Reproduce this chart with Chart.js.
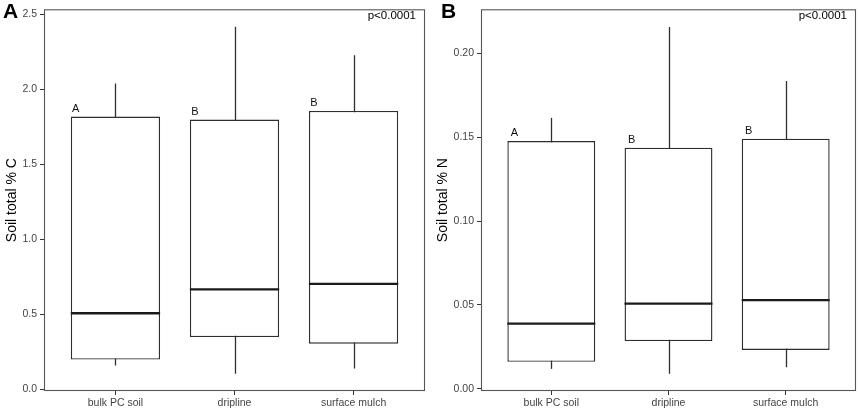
<!DOCTYPE html>
<html>
<head>
<meta charset="utf-8">
<script src="https://cdn.jsdelivr.net/npm/chart.js@4/dist/chart.umd.min.js"></script>
<style>
  html, body { margin: 0; padding: 0; background: #fff; }
  #wrap { position: relative; width: 858px; height: 410px; }
  canvas { position: absolute; top: 0; }
  #chartC { left: 0; }
  #chartN { left: 428px; }
</style>
</head>
<body>
<div id="wrap">
  <canvas id="chartC" width="428" height="410"></canvas>
  <canvas id="chartN" width="430" height="410"></canvas>
</div>
<script>
const categories = ['bulk PC soil', 'dripline', 'surface mulch']
const groupLetters = ['A', 'B', 'B']

// panel A: soil total % C
const carbonMin = [0.159, 0.104, 0.139]
const carbonQ1 = [0.198, 0.348, 0.304]
const carbonMedian = [0.507, 0.666, 0.703]
const carbonQ3 = [1.819, 1.799, 1.856]
const carbonMax = [2.039, 2.418, 2.227]
const carbonTicks = [0, 0.5, 1.0, 1.5, 2.0, 2.5]

// panel B: soil total % N
const nitrogenMin = [0.0118, 0.0089, 0.0128]
const nitrogenQ1 = [0.016, 0.0284, 0.0231]
const nitrogenMedian = [0.0388, 0.0508, 0.0528]
const nitrogenQ3 = [0.1478, 0.1438, 0.1492]
const nitrogenMax = [0.1616, 0.2158, 0.1836]
const nitrogenTicks = [0, 0.05, 0.10, 0.15, 0.20]

const FONT = "'Liberation Sans', Arial, sans-serif"
const INK = '#2e2e2e'

// whiskers, medians, letters and the panel frame
const boxExtras = {
  id: 'boxExtras',
  beforeDatasetsDraw(chart, args, opts) {
    const { ctx, scales: { x, y } } = chart
    ctx.save()
    ctx.strokeStyle = INK
    ctx.lineWidth = 1.3
    opts.lows.forEach((lo, i) => {
      const px = Math.round(x.getPixelForValue(i + 1)) + 0.5
      ctx.beginPath()
      ctx.moveTo(px, y.getPixelForValue(lo))
      ctx.lineTo(px, y.getPixelForValue(opts.highs[i]))
      ctx.stroke()
    })
    ctx.restore()
  },
  afterDatasetsDraw(chart, args, opts) {
    const { ctx, scales: { y } } = chart
    const bars = chart.getDatasetMeta(0).data
    ctx.save()
    ctx.strokeStyle = '#1a1a1a'
    ctx.lineWidth = 2.3
    opts.medians.forEach((m, i) => {
      const bar = bars[i]
      const py = y.getPixelForValue(m)
      ctx.beginPath()
      ctx.moveTo(bar.x - bar.width / 2, py)
      ctx.lineTo(bar.x + bar.width / 2, py)
      ctx.stroke()
    })
    ctx.fillStyle = '#111'
    ctx.font = '11px ' + FONT
    ctx.textAlign = 'center'
    ctx.textBaseline = 'middle'
    groupLetters.forEach((t, i) => {
      const bar = bars[i]
      ctx.fillText(t, bar.x - bar.width / 2 + opts.letterShift, y.getPixelForValue(opts.tops[i]) - 8)
    })
    ctx.restore()
  },
  afterDraw(chart, args, opts) {
    const { ctx, chartArea: a } = chart
    ctx.save()
    ctx.strokeStyle = '#555'
    ctx.lineWidth = 1.1
    ctx.strokeRect(a.left + 0.5, a.top + 0.5, a.right - a.left - 1, a.bottom - a.top - 1)
    ctx.fillStyle = '#000'
    ctx.font = '11.5px ' + FONT
    ctx.textAlign = 'right'
    ctx.textBaseline = 'middle'
    ctx.fillText('p<0.0001', a.right - 9, 16)
    ctx.font = 'bold 21px ' + FONT
    ctx.textAlign = 'left'
    ctx.textBaseline = 'alphabetic'
    ctx.fillText(opts.panel, opts.panelX, 18)
    ctx.restore()
  },
}

function makeChart(id, cfg) {
  const boxes = categories.map((_, i) => ({ x: i + 1, y: [cfg.q1[i], cfg.q3[i]] }))
  return new Chart(document.getElementById(id), {
    type: 'bar',
    data: {
      datasets: [{
        data: boxes,
        backgroundColor: '#ffffff',
        borderColor: INK,
        borderWidth: 1.4,
        borderSkipped: false,
        categoryPercentage: 1,
        barPercentage: 0.75,
      }],
    },
    options: {
      responsive: false,
      animation: false,
      events: [],
      layout: { padding: cfg.padding },
      plugins: {
        legend: { display: false },
        tooltip: { enabled: false },
        boxExtras: {
          lows: cfg.min,
          highs: cfg.max,
          medians: cfg.median,
          tops: cfg.q3,
          letterShift: cfg.letterShift,
          panel: cfg.panel,
          panelX: cfg.panelX,
        },
      },
      scales: {
        x: {
          type: 'linear',
          min: 0.4,
          max: 3.6,
          offset: false,
          afterBuildTicks: scale => { scale.ticks = categories.map((_, i) => ({ value: i + 1 })) },
          afterFit: scale => { scale.height = 19 },
          grid: { offset: false, drawOnChartArea: false, tickLength: 4, color: '#333', lineWidth: 1 },
          border: { display: false },
          ticks: {
            padding: 2,
            color: '#444',
            font: { family: FONT, size: 10.5 },
            maxRotation: 0,
            callback: v => categories[v - 1],
          },
        },
        y: {
          min: cfg.yMin,
          max: cfg.yMax,
          afterBuildTicks: scale => { scale.ticks = cfg.ticks.map(v => ({ value: v })) },
          afterFit: scale => { scale.width = cfg.yWidth },
          grid: { drawOnChartArea: false, tickLength: 4, color: '#333', lineWidth: 1 },
          border: { display: false },
          ticks: {
            padding: 3,
            color: '#444',
            font: { family: FONT, size: 10.5 },
            callback: v => Number(v).toFixed(cfg.digits),
          },
          title: {
            display: true,
            text: cfg.title,
            color: '#000',
            font: { family: FONT, size: 14 },
            padding: { top: 4, bottom: 0 },
          },
        },
      },
    },
    plugins: [boxExtras],
  })
}

makeChart('chartC', {
  q1: carbonQ1, q3: carbonQ3, min: carbonMin, max: carbonMax, median: carbonMedian,
  ticks: carbonTicks, digits: 1, yMin: -0.0117, yMax: 2.534,
  title: 'Soil total % C', panel: 'A', panelX: 3, letterShift: 5,
  padding: { left: 0, top: 7, right: 3, bottom: 0 }, yWidth: 44,
})

makeChart('chartN', {
  q1: nitrogenQ1, q3: nitrogenQ3, min: nitrogenMin, max: nitrogenMax, median: nitrogenMedian,
  ticks: nitrogenTicks, digits: 2, yMin: -0.0014, yMax: 0.2264,
  title: 'Soil total % N', panel: 'B', panelX: 13, letterShift: 7,
  padding: { left: 3, top: 7, right: 2, bottom: 0 }, yWidth: 50,
})
</script>
</body>
</html>
